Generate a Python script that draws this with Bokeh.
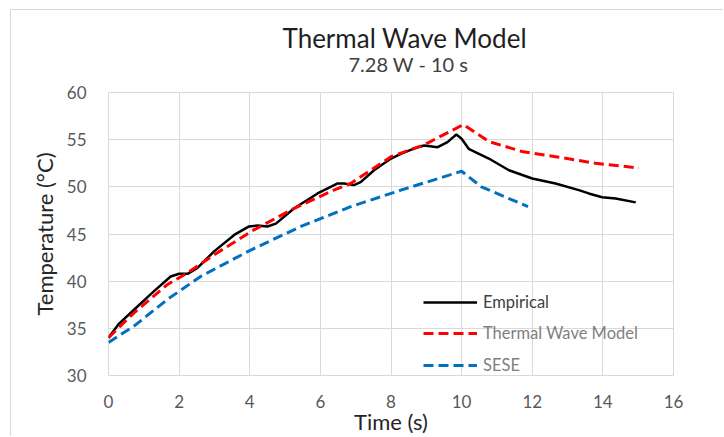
from bokeh.plotting import figure
from bokeh.models import Title, Legend, LegendItem, Range1d, FixedTicker
from bokeh.embed import file_html
from bokeh.resources import INLINE

# Data
emp_t = [0, 0.3, 0.73, 1.29, 1.76, 2.0, 2.24, 2.52, 2.99, 3.56, 3.98, 4.22, 4.5, 4.74, 5.25, 5.92,
         6.49, 6.67, 6.95, 7.14, 7.52, 8.0, 8.28, 8.75, 8.94, 9.32, 9.6, 9.85, 10.0, 10.2, 10.77,
         11.34, 12.0, 12.66, 13.32, 13.6, 13.98, 14.36, 14.93]
emp_T = [34.0, 35.5, 37.0, 38.95, 40.5, 40.78, 40.78, 41.4, 43.16, 44.9, 45.8, 45.9, 45.8, 46.1,
         47.7, 49.3, 50.36, 50.36, 50.18, 50.5, 51.76, 53.0, 53.5, 54.2, 54.39, 54.2, 54.74, 55.55,
         55.1, 54.03, 53.0, 51.76, 50.88, 50.35, 49.65, 49.3, 48.9, 48.77, 48.35]

twm_t = [0, 0.73, 1.67, 2.24, 2.99, 4.12, 5.25, 6.38, 6.86, 8.0, 8.91, 10.05, 10.77, 11.71, 12.66, 13.79, 15.02]
twm_T = [34.0, 36.67, 39.65, 40.88, 42.8, 45.44, 47.7, 49.65, 50.36, 53.2, 54.4, 56.6, 54.8, 53.75, 53.2, 52.5, 52.0]

sese_t = [0, 0.73, 1.67, 2.61, 4.03, 5.45, 6.86, 8.28, 10.0, 10.56, 11.88]
sese_T = [33.5, 35.26, 38.07, 40.5, 43.3, 45.8, 47.9, 49.65, 51.65, 50.0, 47.9]

x_ticks = [0, 2, 4, 6, 8, 10, 12, 14, 16]
y_ticks = [30, 35, 40, 45, 50, 55, 60]

title_text = "Thermal  Wave Model"
subtitle_text = "7.28 W - 10 s"

FONT = "Lato"

p = figure(width=713, height=427, output_backend="svg", toolbar_location=None, title=None,
           x_range=Range1d(0, 16), y_range=Range1d(30, 60),
           min_border_left=97, min_border_right=51, min_border_top=82, min_border_bottom=60)
p.styles = {"margin-left": "10px", "margin-top": "9px",
            "border-left": "1px solid #d9d9d9", "border-top": "1px solid #d9d9d9"}

p.add_layout(Title(text=subtitle_text, align="left", text_font=FONT, text_font_size="20px",
                   text_font_style="normal", text_color="#404040", offset=240, standoff=33), "above")
p.add_layout(Title(text=title_text, align="left", text_font=FONT, text_font_size="26px",
                   text_font_style="normal", text_color="#1f1f1f", offset=174, standoff=-41), "above")

l1 = p.line(emp_t, emp_T, line_color="black", line_width=2.5)
l2 = p.line(twm_t, twm_T, line_color="#ff0000", line_width=3, line_dash="10 5")
l3 = p.line(sese_t, sese_T, line_color="#0070c0", line_width=3, line_dash="10 5")

for ax in (p.xaxis[0], p.yaxis[0]):
    ax.axis_line_color = None
    ax.major_tick_line_color = None
    ax.minor_tick_line_color = None
    ax.major_label_text_font = FONT
    ax.major_label_text_font_size = "17px"
    ax.major_label_text_color = "#595959"
    ax.axis_label_text_font = FONT
    ax.axis_label_text_font_size = "22px"
    ax.axis_label_text_font_style = "normal"
    ax.axis_label_text_color = "#262626"

p.xaxis.ticker = FixedTicker(ticks=x_ticks)
p.yaxis.ticker = FixedTicker(ticks=y_ticks)
p.xaxis.axis_label = "Time (s)"
p.yaxis.axis_label = "Temperature (°C)"
p.xaxis.major_label_standoff = 13
p.xaxis.axis_label_standoff = -3
p.yaxis.major_label_standoff = 16
p.yaxis.axis_label_standoff = 6

p.grid.grid_line_color = "#d9d9d9"
p.grid.grid_line_width = 1
p.outline_line_color = "#d9d9d9"

specs = [("Empirical", l1, "#404040", 63), ("Thermal Wave Model", l2, "#7f7f7f", 32), ("SESE", l3, "#7f7f7f", 0)]
for label, r, col, yoff in specs:
    lg = Legend(items=[LegendItem(label=label, renderers=[r])], location=(315, yoff),
                background_fill_alpha=0, border_line_color=None, padding=0, margin=0,
                glyph_width=54, glyph_height=16, label_standoff=6, label_text_font=FONT,
                label_text_font_size="16.5px", label_text_color=col, label_height=16)
    p.add_layout(lg)

open("out.html", "w").write(file_html(p, INLINE))
